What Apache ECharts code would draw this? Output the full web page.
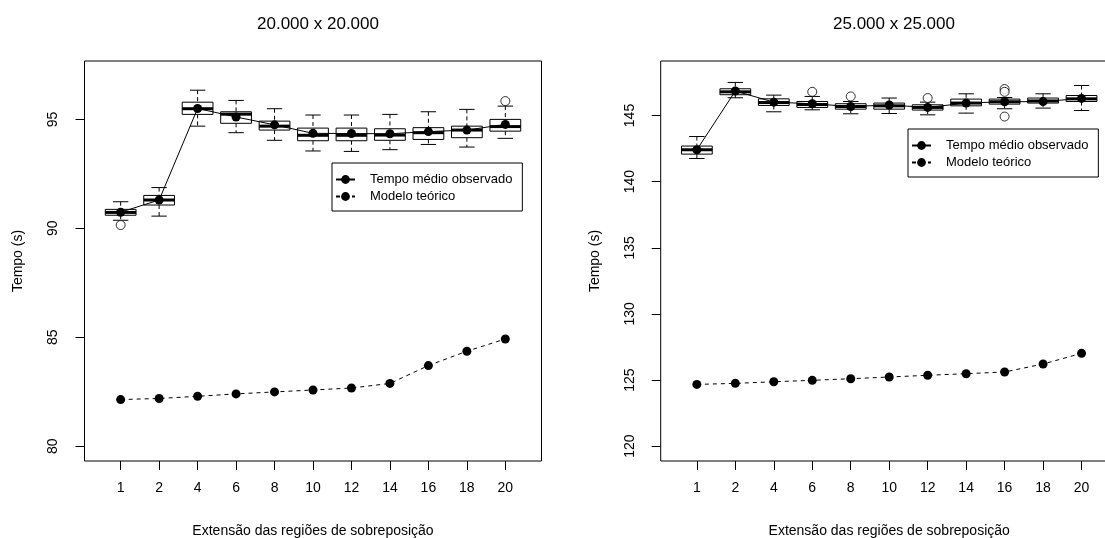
<!DOCTYPE html>
<html>
<head>
<meta charset="utf-8">
<script src="https://cdn.jsdelivr.net/npm/echarts@6/dist/echarts.min.js"></script>
<style>
  html, body { margin: 0; background: #fff; overflow: hidden; }
  #chart { width: 1105px; height: 538px; }
</style>
</head>
<body>
<div id="chart"></div>
<script>
// x categories (overlap extent)
const categories = ['1', '2', '4', '6', '8', '10', '12', '14', '16', '18', '20'];

// 20.000 x 20.000 panel
const lowA = [90.37, 90.56, 94.69, 94.39, 94.04, 93.55, 93.53, 93.61, 93.85, 93.73, 94.13];
const q1A = [90.60, 91.07, 95.23, 94.82, 94.51, 94.02, 94.02, 94.04, 94.08, 94.16, 94.46];
const medA = [90.73, 91.30, 95.49, 95.24, 94.69, 94.27, 94.27, 94.28, 94.39, 94.51, 94.67];
const q3A = [90.87, 91.51, 95.79, 95.35, 94.92, 94.60, 94.60, 94.57, 94.62, 94.69, 95.00];
const highA = [91.22, 91.87, 96.34, 95.87, 95.49, 95.20, 95.20, 95.23, 95.35, 95.46, 95.61];
const outliersA = [[1, 90.15], [11, 95.84]];
const meanA = [90.74, 91.30, 95.50, 95.11, 94.75, 94.36, 94.35, 94.34, 94.44, 94.51, 94.77];
const modelA = [82.14, 82.19, 82.29, 82.40, 82.49, 82.58, 82.67, 82.88, 83.70, 84.36, 84.92];

// 25.000 x 25.000 panel
const lowB = [141.75, 146.34, 145.28, 145.43, 145.13, 145.15, 145.05, 145.18, 145.51, 145.56, 145.38];
const q1B = [142.08, 146.57, 145.76, 145.61, 145.48, 145.48, 145.41, 145.73, 145.86, 145.94, 146.06];
const medB = [142.41, 146.79, 145.98, 145.83, 145.68, 145.73, 145.61, 145.94, 146.04, 146.10, 146.26];
const q3B = [142.69, 147.02, 146.26, 146.06, 145.89, 145.94, 145.81, 146.24, 146.24, 146.32, 146.51];
const highB = [143.41, 147.50, 146.54, 146.44, 146.06, 146.32, 146.01, 146.64, 146.36, 146.64, 147.27];
const outliersB = [[4, 146.79], [5, 146.44], [7, 146.32], [9, 147.00], [9, 146.79], [9, 144.92]];
const meanB = [142.41, 146.85, 146.01, 145.89, 145.68, 145.79, 145.61, 145.94, 146.04, 146.05, 146.29];
const modelB = [124.67, 124.75, 124.87, 124.98, 125.10, 125.23, 125.36, 125.48, 125.61, 126.21, 127.02];

const ticksA = [80, 85, 90, 95];
const ticksB = [120, 125, 130, 135, 140, 145];
const xPos = categories.map((c, i) => i + 1);

const FONT = 'Liberation Sans, Arial, sans-serif';
const chart = echarts.init(document.getElementById('chart'));

function boxRows(lo, q1, md, q3, hi) {
  return lo.map((v, i) => [i + 1, v, q1[i], md[i], q3[i], hi[i]]);
}
function pts(arr) {
  return arr.map((v, i) => [i + 1, v]);
}

// R style boxplot: dashed whiskers, half-width staples, thick median
function renderBox(params, api) {
  const x = api.value(0);
  const lo = api.coord([x, api.value(1)]);
  const q1 = api.coord([x, api.value(2)]);
  const md = api.coord([x, api.value(3)]);
  const q3 = api.coord([x, api.value(4)]);
  const hi = api.coord([x, api.value(5)]);
  const w = api.size([0.8, 0])[0];
  const cx = lo[0];
  const black = { stroke: '#000', lineWidth: 1 };
  return {
    type: 'group',
    children: [
      { type: 'line', shape: { x1: cx, y1: hi[1], x2: cx, y2: q3[1] }, style: Object.assign({ lineDash: [4, 3] }, black) },
      { type: 'line', shape: { x1: cx, y1: q1[1], x2: cx, y2: lo[1] }, style: Object.assign({ lineDash: [4, 3] }, black) },
      { type: 'line', shape: { x1: cx - w / 4, y1: hi[1], x2: cx + w / 4, y2: hi[1] }, style: black },
      { type: 'line', shape: { x1: cx - w / 4, y1: lo[1], x2: cx + w / 4, y2: lo[1] }, style: black },
      { type: 'rect', shape: { x: cx - w / 2, y: q3[1], width: w, height: q1[1] - q3[1] }, style: { fill: '#fff', stroke: '#000', lineWidth: 1 } },
      { type: 'line', shape: { x1: cx - w / 2, y1: md[1], x2: cx + w / 2, y2: md[1] }, style: { stroke: '#000', lineWidth: 3 } }
    ]
  };
}

function xAxisFor(idx) {
  return {
    type: 'value', gridIndex: idx, min: 0.06, max: 11.94,
    name: 'Extensão das regiões de sobreposição', nameLocation: 'middle', nameGap: 63,
    nameTextStyle: { color: '#000', fontSize: 14, fontFamily: FONT },
    axisLine: { show: false },
    splitLine: { show: false },
    axisTick: { show: true, length: 9, customValues: xPos, lineStyle: { color: '#000' } },
    axisLabel: {
      customValues: xPos, margin: 20, color: '#000', fontSize: 14, fontFamily: FONT,
      formatter: v => categories[Math.round(v) - 1]
    }
  };
}

function yAxisFor(idx, min, max, ticks) {
  return {
    type: 'value', gridIndex: idx, min: min, max: max,
    name: 'Tempo (s)', nameLocation: 'middle', nameGap: 59, nameRotate: 90,
    nameTextStyle: { color: '#000', fontSize: 14, fontFamily: FONT },
    axisLine: { show: false },
    splitLine: { show: false },
    axisTick: { show: true, length: 9, customValues: ticks, lineStyle: { color: '#000' } },
    axisLabel: { customValues: ticks, rotate: 90, margin: 24, color: '#000', fontSize: 14, fontFamily: FONT }
  };
}

function legendFor(left, top) {
  return {
    orient: 'vertical', left: left, top: top,
    data: ['Tempo médio observado', 'Modelo teórico'],
    backgroundColor: '#fff', borderColor: '#000', borderWidth: 1, borderRadius: 0,
    padding: [10, 10, 8, 3], itemGap: 4, itemWidth: 19, itemHeight: 11,
    selectedMode: false,
    textStyle: { color: '#000', fontSize: 13, fontFamily: FONT, padding: [0, 0, 0, 10] }
  };
}

function panelSeries(idx, rows, outl, mean, model) {
  return [
    {
      type: 'custom', xAxisIndex: idx, yAxisIndex: idx, renderItem: renderBox,
      encode: { x: 0, y: [1, 2, 3, 4, 5] }, data: rows, z: 2, silent: true
    },
    {
      type: 'scatter', xAxisIndex: idx, yAxisIndex: idx, data: outl, z: 2,
      symbol: 'circle', symbolSize: 9,
      itemStyle: { color: '#fff', borderColor: '#000', borderWidth: 1 }
    },
    {
      name: 'Tempo médio observado', type: 'line', xAxisIndex: idx, yAxisIndex: idx,
      data: pts(mean), symbol: 'circle', symbolSize: 9, z: 3,
      lineStyle: { color: '#000', width: 1 }, itemStyle: { color: '#000' }
    },
    {
      name: 'Modelo teórico', type: 'line', xAxisIndex: idx, yAxisIndex: idx,
      data: pts(model), symbol: 'circle', symbolSize: 9, z: 3,
      lineStyle: { color: '#000', width: 1, type: [4, 4] }, itemStyle: { color: '#000' }
    }
  ];
}

const option = {
  animation: false,
  backgroundColor: '#fff',
  textStyle: { fontFamily: FONT },
  title: [
    { text: '20.000 x 20.000', left: 313, top: 11, textAlign: 'center',
      textStyle: { color: '#000', fontSize: 17, fontWeight: 'normal', fontFamily: FONT } },
    { text: '25.000 x 25.000', left: 889, top: 11, textAlign: 'center',
      textStyle: { color: '#000', fontSize: 17, fontWeight: 'normal', fontFamily: FONT } }
  ],
  grid: [
    { left: 84.5, top: 61, width: 457, height: 400, outerBoundsMode: 'none', containLabel: false,
      show: true, borderColor: '#000', borderWidth: 1, backgroundColor: 'transparent' },
    { left: 660.7, top: 61, width: 457, height: 400, outerBoundsMode: 'none', containLabel: false,
      show: true, borderColor: '#000', borderWidth: 1, backgroundColor: 'transparent' }
  ],
  legend: [legendFor(332, 163), legendFor(908, 129)],
  xAxis: [xAxisFor(0), xAxisFor(1)],
  yAxis: [yAxisFor(0, 79.32, 97.68, ticksA), yAxisFor(1, 118.88, 149.12, ticksB)],
  series: [].concat(
    panelSeries(0, boxRows(lowA, q1A, medA, q3A, highA), outliersA, meanA, modelA),
    panelSeries(1, boxRows(lowB, q1B, medB, q3B, highB), outliersB, meanB, modelB)
  )
};

chart.setOption(option);
</script>
</body>
</html>
